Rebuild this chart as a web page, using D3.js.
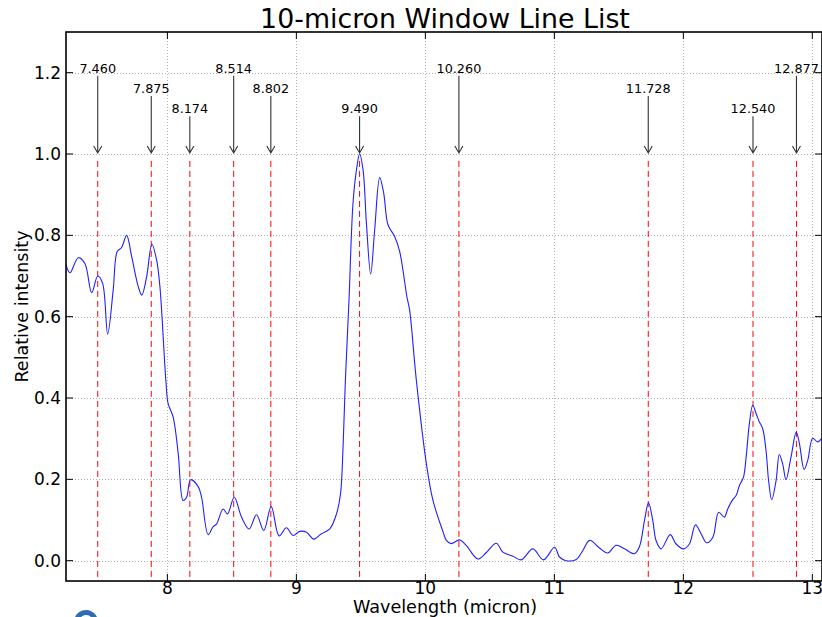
<!DOCTYPE html>
<html>
<head>
<meta charset="utf-8">
<script src="https://cdn.jsdelivr.net/npm/d3@7"></script>
<style>
  body { margin: 0; background: white; }
  text { font-family: "DejaVu Sans", sans-serif; fill: black; }
</style>
</head>
<body>
<div id="chart"></div>
<script>
// spectrum
var wavelength = [7.214, 7.245, 7.309, 7.361, 7.413, 7.460, 7.498, 7.537, 7.580, 7.611,
  7.645, 7.684, 7.723, 7.774, 7.802, 7.839, 7.880, 7.916, 7.942, 7.988,
  8.006, 8.045, 8.084, 8.122, 8.149, 8.180, 8.239, 8.265, 8.316, 8.355,
  8.381, 8.432, 8.466, 8.518, 8.575, 8.634, 8.691, 8.747, 8.805, 8.866,
  8.923, 8.974, 9.026, 9.078, 9.135, 9.194, 9.259, 9.311, 9.342, 9.362,
  9.380, 9.408, 9.439, 9.466, 9.490, 9.517, 9.543, 9.576, 9.607, 9.646,
  9.677, 9.710, 9.762, 9.801, 9.857, 9.878, 9.930, 10.008, 10.059, 10.136,
  10.163, 10.201, 10.266, 10.318, 10.407, 10.473, 10.550, 10.601, 10.679, 10.744,
  10.833, 10.916, 11.002, 11.040, 11.092, 11.170, 11.221, 11.273, 11.350, 11.414,
  11.479, 11.544, 11.621, 11.660, 11.699, 11.730, 11.763, 11.789, 11.828, 11.898,
  11.944, 12.001, 12.047, 12.094, 12.138, 12.181, 12.228, 12.274, 12.318, 12.344,
  12.383, 12.409, 12.435, 12.466, 12.487, 12.512, 12.538, 12.564, 12.590, 12.615,
  12.641, 12.661, 12.685, 12.719, 12.744, 12.770, 12.796, 12.835, 12.875, 12.900,
  12.936, 12.964, 13.003, 13.041, 13.075];
var intensity = [0.727, 0.708, 0.745, 0.730, 0.659, 0.700, 0.682, 0.557, 0.666, 0.760,
  0.770, 0.800, 0.748, 0.674, 0.653, 0.698, 0.778, 0.740, 0.674, 0.444,
  0.386, 0.353, 0.263, 0.148, 0.156, 0.199, 0.182, 0.156, 0.064, 0.084,
  0.090, 0.127, 0.115, 0.156, 0.107, 0.078, 0.113, 0.074, 0.133, 0.061,
  0.081, 0.062, 0.072, 0.070, 0.053, 0.066, 0.078, 0.115, 0.164, 0.279,
  0.444, 0.641, 0.879, 0.961, 1.000, 0.961, 0.830, 0.705, 0.813, 0.942,
  0.904, 0.826, 0.797, 0.760, 0.649, 0.616, 0.444, 0.238, 0.148, 0.072,
  0.050, 0.042, 0.051, 0.037, 0.004, 0.020, 0.043, 0.021, 0.011, 0.002,
  0.029, 0.002, 0.033, 0.009, 0.000, 0.003, 0.025, 0.050, 0.031, 0.019,
  0.038, 0.029, 0.017, 0.035, 0.099, 0.142, 0.099, 0.049, 0.029, 0.064,
  0.041, 0.029, 0.041, 0.088, 0.066, 0.044, 0.057, 0.119, 0.107, 0.127,
  0.150, 0.160, 0.185, 0.205, 0.255, 0.337, 0.382, 0.362, 0.341, 0.325,
  0.271, 0.197, 0.150, 0.197, 0.261, 0.238, 0.199, 0.255, 0.316, 0.288,
  0.224, 0.246, 0.301, 0.292, 0.302];

// marked lines and where their labels sit
var lineWavelengths = [7.460, 7.875, 8.174, 8.514, 8.802, 9.490, 10.260, 11.728, 12.540, 12.877];
var lineLabels = ['7.460', '7.875', '8.174', '8.514', '8.802', '9.490', '10.260', '11.728', '12.540', '12.877'];
var labelLevels = [1.2, 1.15, 1.1, 1.2, 1.15, 1.1, 1.2, 1.15, 1.1, 1.2];

var xTicks = [8, 9, 10, 11, 12, 13];
var yTicks = [0.0, 0.2, 0.4, 0.6, 0.8, 1.0, 1.2];

var width = 822, height = 617;
var margin = {left: 66, right: 0, top: 32, bottom: 36};

var svg = d3.select('#chart').append('svg')
  .attr('width', width)
  .attr('height', height);

var x = d3.scaleLinear().domain([7.214, 13.075]).range([margin.left, width - margin.right]);
var y = d3.scaleLinear().domain([-0.05, 1.3]).range([height - margin.bottom, margin.top]);

var x0 = x.range()[0], x1 = x.range()[1];
var y0 = y.range()[0], y1 = y.range()[1];

svg.append('clipPath').attr('id', 'plot')
  .append('rect')
  .attr('x', x0).attr('y', y1)
  .attr('width', x1 - x0).attr('height', y0 - y1);

// dotted grid
var grid = svg.append('g').attr('stroke', '#b0b0b0').attr('stroke-width', 1).attr('stroke-dasharray', '1,2');
xTicks.forEach(function(t){
  grid.append('line')
    .attr('x1', Math.round(x(t)) + 0.5).attr('x2', Math.round(x(t)) + 0.5)
    .attr('y1', y1).attr('y2', y0);
});
yTicks.forEach(function(t){
  grid.append('line')
    .attr('x1', x0).attr('x2', x1)
    .attr('y1', Math.round(y(t)) + 0.5).attr('y2', Math.round(y(t)) + 0.5);
});

// red dashed markers
svg.append('g')
  .selectAll('line')
  .data(lineWavelengths)
  .enter().append('line')
  .attr('x1', function(d){ return x(d); })
  .attr('x2', function(d){ return x(d); })
  .attr('y1', y(0.983))
  .attr('y2', y0)
  .attr('stroke', 'red')
  .attr('stroke-width', 1)
  .attr('stroke-dasharray', '6,4');

// spectrum
var line = d3.line()
  .x(function(d, i){ return x(wavelength[i]); })
  .y(function(d){ return y(d); })
  .curve(d3.curveCatmullRom.alpha(0.5));

svg.append('path')
  .datum(intensity)
  .attr('clip-path', 'url(#plot)')
  .attr('d', line)
  .attr('fill', 'none')
  .attr('stroke', '#2020ff')
  .attr('stroke-width', 1.1);

// annotations with arrows
var ann = svg.append('g');
lineWavelengths.forEach(function(w, i){
  var ax = x(w);
  var top = y(labelLevels[i]) + 3;
  var tip = y(1.0) - 1;
  ann.append('text')
    .attr('x', ax)
    .attr('y', y(labelLevels[i]))
    .attr('text-anchor', 'middle')
    .attr('font-size', '12.8px')
    .text(lineLabels[i]);
  ann.append('path')
    .attr('d', 'M' + ax + ',' + top + 'L' + ax + ',' + tip +
      'M' + (ax - 4) + ',' + (tip - 7) + 'L' + ax + ',' + tip + 'L' + (ax + 4) + ',' + (tip - 7))
    .attr('fill', 'none')
    .attr('stroke', '#333')
    .attr('stroke-width', 1.1);
});

// frame and inward ticks
svg.append('rect')
  .attr('x', x0).attr('y', y1)
  .attr('width', x1 - x0).attr('height', y0 - y1)
  .attr('fill', 'none')
  .attr('stroke', 'black')
  .attr('stroke-width', 1.6);

var ticks = svg.append('g').attr('stroke', 'black').attr('stroke-width', 1);
xTicks.forEach(function(t){
  ticks.append('line').attr('x1', x(t)).attr('x2', x(t)).attr('y1', y0).attr('y2', y0 - 7);
  ticks.append('line').attr('x1', x(t)).attr('x2', x(t)).attr('y1', y1).attr('y2', y1 + 7);
});
yTicks.forEach(function(t){
  ticks.append('line').attr('x1', x0).attr('x2', x0 + 7).attr('y1', y(t)).attr('y2', y(t));
  ticks.append('line').attr('x1', x1).attr('x2', x1 - 7).attr('y1', y(t)).attr('y2', y(t));
});

svg.append('g').selectAll('text')
  .data(xTicks)
  .enter().append('text')
  .attr('x', function(d){ return x(d); })
  .attr('y', y0 + 13)
  .attr('text-anchor', 'middle')
  .attr('font-size', '17px')
  .text(function(d){ return d; });

svg.append('g').selectAll('text')
  .data(yTicks)
  .enter().append('text')
  .attr('x', x0 - 5)
  .attr('y', function(d){ return y(d) + 6; })
  .attr('text-anchor', 'end')
  .attr('font-size', '17px')
  .text(function(d){ return d.toFixed(1); });

// labels and title
svg.append('text')
  .attr('x', (x0 + x1) / 2 + 1)
  .attr('y', 613)
  .attr('text-anchor', 'middle')
  .attr('font-size', '17.6px')
  .text('Wavelength (micron)');

svg.append('text')
  .attr('transform', 'translate(28,' + ((y0 + y1) / 2) + ') rotate(-90)')
  .attr('text-anchor', 'middle')
  .attr('font-size', '17.5px')
  .text('Relative intensity');

svg.append('text')
  .attr('x', (x0 + x1) / 2 + 1)
  .attr('y', 28)
  .attr('text-anchor', 'middle')
  .attr('font-size', '26.8px')
  .text('10-micron Window Line List');

// bit of a logo peeking in at the bottom
svg.append('path')
  .attr('d', d3.arc()({innerRadius: 7, outerRadius: 12, startAngle: -Math.PI * 0.55, endAngle: Math.PI * 0.6}))
  .attr('transform', 'translate(86,622)')
  .attr('fill', '#2f6db0');
</script>
</body>
</html>
